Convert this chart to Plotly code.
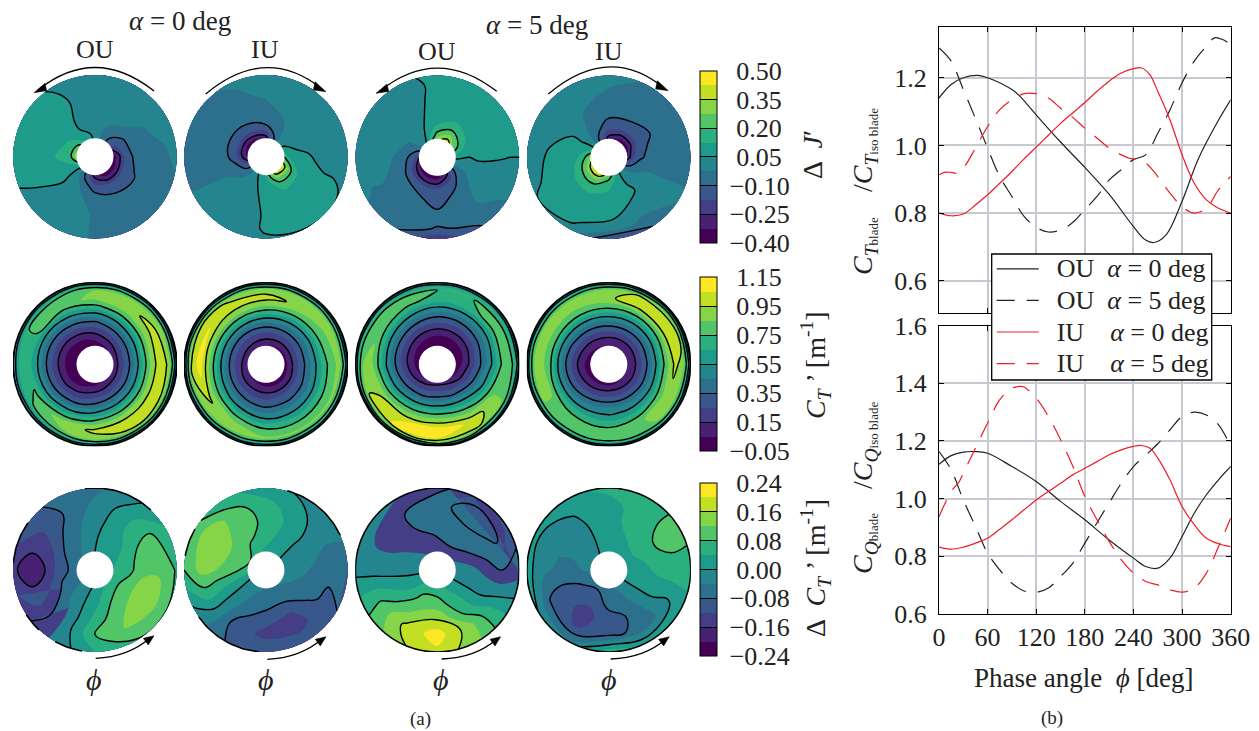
import numpy as np
import plotly.graph_objects as go

W, H = 1259, 731
FONT = "Liberation Serif"
VIRIDIS = ["#440154", "#482173", "#433e85", "#38588c", "#2d708e", "#25858e",
           "#1e9b8a", "#2ab07f", "#52c569", "#86d549", "#c2df23", "#fde725"]

THETA = [0, 30, 60, 90, 120, 150, 180, 210, 240, 270, 300, 330]
R_J = [0.22, 0.29, 0.39, 0.51, 0.73, 0.88, 1.0]
R_CT = [0.22, 0.317, 0.415, 0.512, 0.61, 0.707, 0.805, 0.902, 0.963, 1.0]
R_DCT = [0.22, 0.43, 0.61, 0.79, 1.0]

J_OU0 = [
 [-.38, -.2, -.08, .03, .12, .25, .35, .1, -.1, -.3, -.4, -.4],
 [-.28, -.15, -.08, .03, .08, .17, .2, .08, -.08, -.22, -.3, -.3],
 [-.13, -.11, -.05, .03, .05, .12, .15, .07, -.02, -.13, -.15, -.15],
 [-.08, -.05, 0, .02, .05, .09, .12, .07, 0, -.06, -.1, -.11],
 [-.04, -.02, 0, 0, .06, .08, .09, .05, 0, -.03, -.06, -.06],
 [-.03, -.01, 0, .01, .05, .08, .08, .045, 0, -.03, -.07, -.05],
 [-.01, 0, 0, .02, .04, .08, .08, .04, 0, -.03, -.09, -.05],
]
J_IU0 = [
 [.2, .06, -.06, -.3, -.38, -.4, -.35, -.12, .03, .12, .4, .45],
 [.1, .04, -.04, -.2, -.25, -.28, -.25, -.1, .03, .09, .28, .3],
 [.07, .02, -.03, -.1, -.13, -.14, -.13, -.05, .02, .08, .15, .15],
 [.06, 0, -.02, -.05, -.08, -.09, -.08, -.02, .01, .07, .11, .09],
 [.02, 0, -.01, -.02, -.04, -.07, -.06, -.02, 0, .06, .08, .08],
 [.02, 0, 0, -.01, -.03, -.05, -.055, -.02, 0, .06, .07, .07],
 [.02, 0, 0, 0, -.02, -.04, -.05, -.02, 0, .04, .05, .05],
]
J_OU5 = [
 [.07, .27, .4, .32, .08, -.04, -.25, -.37, -.4, -.38, -.28, -.05],
 [.06, .2, .3, .22, .05, -.03, -.15, -.25, -.3, -.3, -.2, -.04],
 [.05, .13, .18, .13, .03, -.02, -.08, -.13, -.16, -.17, -.12, -.03],
 [.06, .09, .11, .08, .03, 0, -.03, -.06, -.09, -.14, -.07, 0],
 [.055, .07, .08, .07, .02, .01, 0, -.03, -.05, -.07, -.04, 0],
 [.05, .07, .08, .06, .03, .01, 0, -.03, -.06, -.11, -.08, -.01],
 [.05, .07, .08, .06, .04, .01, 0, -.02, -.09, -.24, -.11, -.02],
]
J_IU5 = [
 [-.33, -.4, -.38, -.3, -.1, .07, .3, .42, .45, .28, .07, -.07],
 [-.2, -.27, -.27, -.22, -.08, .06, .2, .3, .3, .18, .06, -.05],
 [-.11, -.15, -.15, -.13, -.06, .05, .12, .17, .18, .13, .06, -.02],
 [-.08, -.11, -.10, -.09, -.04, .05, .09, .11, .12, .1, .07, 0],
 [-.06, -.08, -.06, -.04, -.01, .03, .06, .07, .08, .07, 0, -.01],
 [-.06, -.07, -.05, -.02, 0, .01, .03, .06, .06, 0, -.04, -.01],
 [-.06, -.07, -.03, -.01, 0, .01, .03, .05, .03, -.17, -.11, -.01],
]

CT_OU0 = [
 [.075, .06, .015, -.015, -.03, -.042, -.045, -.038, -.02, 0, .045, .068],
 [.2, .183, .135, .075, .03, -.002, -.005, .008, .06, .12, .167, .19],
 [.333, .317, .267, .2, .15, .112, .105, .127, .183, .25, .3, .325],
 [.515, .491, .42, .333, .283, .241, .233, .258, .317, .397, .468, .503],
 [.723, .697, .617, .515, .444, .385, .374, .408, .491, .59, .67, .71],
 [.908, .885, .818, .723, .643, .577, .563, .603, .697, .795, .863, .896],
 [1.02, .99, .92, .87, .82, .76, .69, .77, .9, .97, 1.02, 1.03],
 [.92, .9, .87, .85, .8, .76, .7, .74, .82, .92, .95, .94],
 [.68, .66, .66, .66, .64, .62, .58, .58, .62, .66, .68, .68],
 [.32, .32, .32, .32, .32, .32, .32, .32, .32, .32, .32, .32],
]
CT_IU0 = [
 [-.01, 0, .02, .04, .06, .07, .08, .06, .02, -.02, -.03, -.02],
 [.14, .15, .15, .16, .17, .18, .17, .15, .13, .11, .1, .11],
 [.283, .283, .282, .283, .29, .293, .292, .273, .25, .233, .246, .263],
 [.397, .414, .426, .444, .462, .474, .468, .426, .374, .333, .342, .362],
 [.55, .574, .606, .643, .673, .694, .683, .62, .538, .468, .474, .497],
 [.697, .75, .795, .84, .874, .897, .885, .818, .723, .617, .617, .643],
 [.82, .85, .93, .98, 1.0, 1.06, 1.1, .97, .87, .78, .76, .78],
 [.88, .88, .9, .92, .93, 1.0, .98, .9, .86, .87, .87, .87],
 [.68, .66, .66, .66, .66, .68, .68, .66, .66, .66, .66, .68],
 [.32, .32, .32, .32, .32, .32, .32, .32, .32, .32, .32, .32],
]
CT_OU5 = [
 [-.018, -.03, -.038, -.038, -.03, -.02, -.01, .022, .075, .105, .083, .015],
 [.068, .03, .008, .008, .03, .06, .09, .143, .2, .233, .208, .135],
 [.19, .15, .127, .127, .15, .183, .217, .275, .333, .374, .342, .267],
 [.325, .283, .258, .258, .283, .317, .35, .432, .515, .563, .526, .42],
 [.462, .414, .39, .39, .432, .48, .526, .624, .716, .761, .704, .577],
 [.617, .577, .563, .563, .617, .67, .723, .818, .896, .93, .863, .75],
 [.79, .77, .74, .73, .77, .83, .88, .96, 1.05, 1.12, 1.03, .86],
 [.78, .76, .75, .75, .78, .8, .85, .98, 1.08, 1.05, .98, .85],
 [.65, .63, .62, .62, .62, .65, .68, .72, .75, .8, .7, .66],
 [.32, .32, .32, .32, .32, .32, .32, .32, .32, .32, .32, .32],
]
CT_IU5 = [
 [.06, .06, .06, .05, .03, .01, -.01, -.02, -.02, -.01, .02, .05],
 [.135, .135, .135, .135, .12, .098, .068, .09, .12, .143, .143, .135],
 [.267, .267, .267, .267, .25, .225, .19, .217, .25, .275, .275, .267],
 [.42, .42, .42, .42, .397, .362, .325, .35, .397, .432, .432, .42],
 [.617, .617, .61, .603, .577, .55, .52, .526, .538, .544, .57, .597],
 [.818, .818, .806, .795, .773, .761, .75, .723, .697, .67, .723, .784],
 [.97, 1.04, 1.03, .93, .88, .88, .87, .85, .8, .79, .84, .92],
 [.92, 1.0, .98, .9, .86, .86, .88, .85, .82, .83, .84, .87],
 [.68, .7, .68, .66, .66, .66, .66, .66, .66, .66, .66, .68],
 [.32, .32, .32, .32, .32, .32, .32, .32, .32, .32, .32, .32],
]

DCT_OU0 = [
 [.04, .03, .01, 0, -.03, -.05, -.06, -.05, -.02, .01, .04, .05],
 [.07, .05, .02, -.005, -.05, -.08, -.1, -.07, -.02, .03, .085, .105],
 [.115, .08, .03, -.02, -.06, -.12, -.16, -.11, -.03, .055, .115, .135],
 [.115, .09, .02, -.03, -.08, -.13, -.19, -.13, -.03, .08, .125, .14],
 [.075, .045, -.01, -.05, -.07, -.1, -.15, -.1, -.03, .04, .075, .08],
]
DCT_IU0 = [
 [-.01, -.005, .01, .03, .05, .08, .06, 0, -.025, -.04, -.045, -.03],
 [-.03, -.015, .02, .06, .09, .11, .1, .01, -.045, -.065, -.075, -.055],
 [-.05, -.02, .025, .07, .1, .14, .12, .02, -.07, -.11, -.125, -.065],
 [-.07, -.03, .015, .055, .1, .155, .135, .03, -.1, -.13, -.135, -.09],
 [-.06, -.03, -.01, .02, .05, .09, .08, -.01, -.08, -.09, -.09, -.08],
]
DCT_OU5 = [
 [-.02, -.04, -.05, -.05, -.04, -.03, -.01, .015, .06, .06, .03, 0],
 [-.03, -.08, -.11, -.085, -.06, -.04, -.015, .03, .095, .1, .06, 0],
 [-.055, -.12, -.15, -.11, -.08, -.05, -.02, .06, .125, .165, .08, 0],
 [-.08, -.18, -.2, -.13, -.08, -.05, -.02, .085, .17, .22, .135, .02],
 [-.06, -.1, -.13, -.06, -.04, -.025, -.015, .07, .15, .19, .13, .03],
]
DCT_IU5 = [
 [.015, .025, .02, .01, 0, -.02, -.03, -.06, -.07, -.05, -.03, .005],
 [.03, .05, .04, .02, -.005, -.03, -.05, -.09, -.11, -.07, -.045, .005],
 [.05, .078, .05, .03, -.005, -.03, -.05, -.1, -.135, -.1, -.07, .005],
 [.065, .095, .06, .025, .003, -.02, -.03, -.09, -.125, -.085, -.075, -.01],
 [.06, .095, .06, .05, .03, .01, .015, 0, -.03, .06, .03, .02],
]

# Degree spans of the rim where the contour lines of the two left discs of row 3 pile up into black
EDGE_OU0 = [(47, 97), (145, 175), (213, 227), (241, 261)]
EDGE_IU0 = [(25, 76), (150, 170), (215, 265)]

PHASE_T_OU0 = [0, 15, 30, 48, 60, 90, 100, 120, 150, 180, 210, 240, 255, 265, 280, 300, 320, 345, 360]
CT_BLADE_OU0 = [1.14, 1.18, 1.2, 1.207, 1.2, 1.165, 1.145, 1.09, 1.01, .935, .855, .76, .72, .713, .735, .835, .96, 1.075, 1.135]
PHASE_T_OU5 = [0, 15, 30, 45, 60, 75, 90, 105, 120, 135, 150, 165, 180, 195, 210, 225, 240, 255, 270, 285, 300, 315, 330, 340, 350, 360]
CT_BLADE_OU5 = [1.288, 1.249, 1.165, 1.08, .992, .908, .849, .79, .758, .744, .75, .772, .81, .849, .898, .928, .958, .972, 1.036, 1.105, 1.185, 1.249, 1.293, 1.318, 1.313, 1.298]
PHASE_T_IU0 = [0, 15, 30, 45, 60, 75, 90, 105, 120, 135, 150, 165, 180, 195, 210, 225, 240, 250, 260, 270, 285, 300, 315, 330, 345, 360]
CT_BLADE_IU0 = [.8, .792, .797, .824, .854, .888, .923, .96, .995, 1.03, 1.065, 1.096, 1.127, 1.16, 1.19, 1.214, 1.227, 1.229, 1.21, 1.16, 1.076, .972, .888, .839, .814, .8]
PHASE_T_IU5 = [0, 8, 15, 22, 30, 45, 60, 75, 90, 105, 120, 135, 150, 165, 180, 195, 210, 225, 235, 240, 255, 270, 285, 300, 315, 330, 345, 360]
CT_BLADE_IU5 = [.913, .921, .92, .918, .933, .992, 1.056, 1.106, 1.135, 1.153, 1.153, 1.14, 1.11, 1.083, 1.051, 1.022, .992, .972, .962, .96, .948, .908, .859, .819, .8, .814, .869, .908]

PHASE_Q_OU0 = [0, 15, 30, 45, 60, 90, 120, 150, 180, 210, 240, 255, 270, 285, 300, 315, 330, 345, 360]
CQ_BLADE_OU0 = [1.119, 1.149, 1.161, 1.163, 1.157, 1.111, 1.059, .99, .926, .856, .793, .764, .758, .793, .868, .949, 1.013, 1.065, 1.111]
PHASE_Q_OU5 = [0, 15, 30, 45, 60, 75, 90, 105, 120, 135, 150, 165, 180, 195, 210, 225, 240, 255, 270, 285, 300, 315, 330, 345, 360]
CQ_BLADE_OU5 = [1.163, 1.1, .995, .903, .81, .752, .706, .679, .674, .689, .729, .775, .845, .916, .985, 1.053, 1.111, 1.15, 1.19, 1.238, 1.285, 1.3, 1.29, 1.256, 1.18]
PHASE_Q_IU0 = [0, 15, 30, 45, 60, 75, 90, 105, 120, 135, 150, 165, 180, 195, 210, 225, 240, 250, 260, 270, 285, 300, 315, 330, 345, 360]
CQ_BLADE_IU0 = [.831, .824, .831, .845, .862, .893, .926, .961, .995, 1.024, 1.053, 1.082, 1.105, 1.128, 1.152, 1.169, 1.181, 1.184, 1.175, 1.14, 1.065, .972, .909, .862, .843, .833]
PHASE_Q_IU5 = [0, 15, 25, 30, 45, 60, 75, 90, 100, 105, 120, 135, 150, 165, 180, 195, 210, 225, 240, 255, 270, 285, 300, 315, 330, 345, 360]
CQ_BLADE_IU5 = [.937, 1.024, 1.059, 1.088, 1.175, 1.262, 1.343, 1.383, 1.389, 1.387, 1.348, 1.285, 1.205, 1.113, 1.007, .926, .851, .787, .741, .712, .7, .683, .675, .689, .741, .833, .932]

def fx(x): return x / W
def fy(y): return 1 - y / H

fig = go.Figure()
layout = dict(width=W, height=H, margin=dict(l=0, r=0, t=0, b=0, autoexpand=False), autosize=False,
              paper_bgcolor="white", plot_bgcolor="white",
              font=dict(family=FONT, size=26, color="#222222"), showlegend=True)
shapes, annotations = [], []

RD = 82
STEP_SCALE = []
for i, c in enumerate(VIRIDIS[:-1]):
    STEP_SCALE += [[i / 11, c], [(i + 1) / 11, c]]
STEP_SCALE.append([1, VIRIDIS[-1]])

ROWS = [
    dict(cy=[156.7, 156.7, 157.3, 157.3], data=[J_OU0, J_IU0, J_OU5, J_IU5], radii=R_J,
         lo=-0.40, hi=0.50, step=0.075, lines=[-.25, -.10, .05, .20, .35], outline=[False] * 4, edges=[None] * 4,
         ticks=[.50, .35, .20, .05, -.10, -.25, -.40], fmt="%.2f", bar=(70.7, 243)),
    dict(cy=[364.3] * 4, data=[CT_OU0, CT_IU0, CT_OU5, CT_IU5], radii=R_CT,
         lo=-0.05, hi=1.15, step=0.10, lines=[.15, .35, .55, .75, .95], outline=[True] * 4, edges=[None] * 4,
         ticks=[1.15, .95, .75, .55, .35, .15, -.05], fmt="%.2f", bar=(277, 451)),
    dict(cy=[570] * 4, data=[DCT_OU0, DCT_IU0, DCT_OU5, DCT_IU5], radii=R_DCT,
         lo=-0.24, hi=0.24, step=0.04, lines=[-.16, -.08, 0, .08, .16], outline=[False, False, True, True],
         edges=[EDGE_OU0, EDGE_IU0, None, None],
         ticks=[.24, .16, .08, 0, -.08, -.16, -.24], fmt="%.2f", bar=(483, 656)),
]
CX = [95, 266, 437.3, 608.8]

n = 0
for row in ROWS:
    for j, zz in enumerate(row["data"]):
        n += 1
        xn, yn = f"x{n}", f"y{n}"
        cx, cy = CX[j], row["cy"][j]
        layout[f"xaxis{n}"] = dict(domain=[fx(cx - RD), fx(cx + RD)], range=[-1, 1], visible=False, anchor=yn)
        layout[f"yaxis{n}"] = dict(domain=[fy(cy + RD), fy(cy - RD)], range=[-1, 1], visible=False, anchor=xn)
        rr = np.array(row["radii"])
        th = np.array(THETA + [360.0])
        A, B = np.meshgrid(rr, th)
        X = A * np.cos(np.radians(B))
        Y = A * np.sin(np.radians(B))
        Z = np.array(zz).T
        Z = np.vstack([Z, Z[0]])
        ax = dict(showgrid=False, showticklabels="none", showline=False, startline=False, endline=False,
                  minorgridcount=0, smoothing=1)
        cid = f"c{n}"
        fig.add_trace(go.Carpet(a=rr.tolist(), b=th.tolist(), x=X.tolist(), y=Y.tolist(), carpet=cid,
                                xaxis=xn, yaxis=yn, aaxis=ax, baxis=ax))
        show = j == 0
        cb = None
        if show:
            top, bot = row["bar"]
            labels = [("\u00a0\u00a0" + row["fmt"] % v) if v >= 0 else "\u00a0\u2212" + row["fmt"] % abs(v) for v in row["ticks"]]
            cb = dict(x=fx(699.5), xanchor="left", y=fy((top + bot) / 2), yanchor="middle",
                      len=(bot - top) / H, lenmode="fraction", thickness=17, thicknessmode="pixels",
                      xpad=0, ypad=0, outlinecolor="black", outlinewidth=1,
                      tickmode="array", tickvals=row["ticks"], ticktext=labels,
                      ticks="inside", ticklen=17, tickcolor="black", tickwidth=1.2,
                      tickfont=dict(family=FONT, size=26, color="#222222"))
        fig.add_trace(go.Contourcarpet(a=rr.tolist(), b=th.tolist(), z=Z.tolist(), carpet=cid, xaxis=xn, yaxis=yn,
                                       autocontour=False, zmin=row["lo"], zmax=row["hi"],
                                       contours=dict(start=row["lo"], end=row["hi"] - row["step"] * 0.5, size=row["step"],
                                                     coloring="fill", showlines=False),
                                       line=dict(width=0, smoothing=1),
                                       colorscale=STEP_SCALE, showscale=show, colorbar=cb,
                                       showlegend=False))
        for lev in row["lines"]:
            fig.add_trace(go.Contourcarpet(a=rr.tolist(), b=th.tolist(), z=Z.tolist(), carpet=cid, xaxis=xn, yaxis=yn,
                                           autocontour=False,
                                           contours=dict(start=lev, end=lev, size=1, coloring="none", showlines=True),
                                           line=dict(color="black", width=1.4, smoothing=1.2),
                                           showscale=False, showlegend=False))
        if row["edges"][j]:
            for a0, a1 in row["edges"][j]:
                t = np.radians(np.arange(a0, a1 + 1, 2))
                fig.add_trace(go.Scatter(x=np.cos(t).tolist(), y=np.sin(t).tolist(), xaxis=xn, yaxis=yn, mode="lines",
                                         line=dict(color="black", width=1.6), showlegend=False, hoverinfo="skip"))
        hub = 18.5 / RD
        shapes.append(dict(type="circle", xref=xn, yref=yn, x0=-hub, x1=hub, y0=-hub, y1=hub,
                           fillcolor="white", line=dict(width=0), layer="above"))
        if row["outline"][j]:
            shapes.append(dict(type="circle", xref=xn, yref=yn, x0=-1, x1=1, y0=-1, y1=1,
                               line=dict(color="black", width=1.6), layer="above"))

def paper_path(pts, curve=True):
    p = pts
    if curve:
        return f"M {fx(p[0][0])},{fy(p[0][1])} Q {fx(p[1][0])},{fy(p[1][1])} {fx(p[2][0])},{fy(p[2][1])}"
    return "M " + " L ".join(f"{fx(a)},{fy(b)}" for a, b in p) + " Z"

ARCS = [
    ((154, 91), (95, 44.5), (38, 90), [(34, 92.7), (45, 83.3), (46.7, 90.7)]),
    ((205.7, 94), (266, 44), (322, 89), [(326, 91.7), (315, 81.7), (313.3, 90)]),
    ((496.7, 91.3), (437, 45), (380, 91), [(376, 93.3), (387, 84), (388.7, 91.4)]),
    ((548.3, 94), (609, 43), (664, 88), [(668.3, 90.7), (657.3, 80.7), (655.6, 89)]),
    ((95.7, 658.3), (128, 657), (150, 638), [(154, 635.7), (143.3, 638.3), (148.3, 645)]),
    ((267.3, 659.3), (300, 658), (322, 639), [(326, 636.7), (315.3, 639.3), (320.3, 646)]),
    ((441.7, 659), (475, 658), (497, 639), [(500.7, 636.7), (490, 639.3), (495, 646)]),
    ((610.7, 659), (644, 658), (666, 639), [(669.3, 636.7), (658.6, 639.3), (663.6, 646)]),
]
for p0, c, p1, tri in ARCS:
    shapes.append(dict(type="path", xref="paper", yref="paper", path=paper_path([p0, c, p1]),
                       line=dict(color="black", width=1.3)))
    shapes.append(dict(type="path", xref="paper", yref="paper", path=paper_path(tri, curve=False),
                       fillcolor="black", line=dict(color="black", width=0.5)))

def note(text, x, y, size=26, angle=0, color="#222222"):
    annotations.append(dict(text=text, x=fx(x), y=fy(y), xref="paper", yref="paper", showarrow=False,
                            xanchor="center", yanchor="middle", textangle=angle,
                            font=dict(family=FONT, size=size, color=color)))

note("<i>α</i> = 0 deg", 180, 21, 27)
note("<i>α</i> = 5 deg", 537, 25, 27)
for x, y, t in [(95, 50, "OU"), (265, 50, "IU"), (437, 52, "OU"), (609, 52, "IU")]:
    note(t, x, y, 26)
for x in [94, 266, 441, 609]:
    note("<i>ϕ</i>", x, 679, 30)
note("(a)", 421, 719, 19)
note("(b)", 1052, 718, 19)
note("Phase angle  <i>ϕ</i> [deg]", 1083, 678, 27)
note("Δ  <i>J</i>′", 812, 155, 28, -90)
note("<i>C<sub>T</sub></i> ’ [m<sup>-1</sup>]", 815, 365, 28, -90)
note("Δ  <i>C<sub>T</sub></i> ’ [m<sup>-1</sup>]", 815, 568, 28, -90)
note('<i>C<sub>T</sub></i><sub><span style="font-size:13px">blade</span></sub>', 864, 246, 28, -90)
note('/<i>C<sub>T</sub></i><sub><span style="font-size:13px">iso blade</span></sub>', 864, 150, 28, -90)
note('<i>C<sub>Q</sub></i><sub><span style="font-size:13px">blade</span></sub>', 864, 544, 28, -90)
note('/<i>C<sub>Q</sub></i><sub><span style="font-size:13px">iso blade</span></sub>', 864, 446, 28, -90)

GRID = "#c8c8d0"
xticks = [0, 60, 120, 180, 240, 300, 360]
common_x = dict(range=[0, 360], tickvals=xticks, ticks="inside", ticklen=5, tickcolor="black", showline=True,
                linecolor="black", linewidth=1.3, mirror="ticks", showgrid=True, gridcolor=GRID, gridwidth=1.5,
                zeroline=False, tickfont=dict(size=26))
common_y = dict(ticks="inside", ticklen=5, tickcolor="black", showline=True, linecolor="black", linewidth=1.3,
                mirror="ticks", showgrid=True, gridcolor=GRID, gridwidth=1.5, zeroline=False, ticklabelstandoff=6,
                tickfont=dict(size=26))
layout["xaxis13"] = dict(domain=[fx(939), fx(1230.7)], anchor="y13", showticklabels=False, **common_x)
layout["yaxis13"] = dict(domain=[fy(313), fy(26.7)], anchor="x13", range=[0.5045, 1.351],
                         tickvals=[.6, .8, 1.0, 1.2], tickformat=".1f", **common_y)
layout["xaxis14"] = dict(domain=[fx(939), fx(1230.7)], anchor="y14", **common_x)
layout["yaxis14"] = dict(domain=[fy(613.7), fy(325.7)], anchor="x14", range=[0.6, 1.6],
                         tickvals=[.6, .8, 1.0, 1.2, 1.4, 1.6], tickformat=".1f", **common_y)

DASH = "18px,12px"
def legend_name(txt):
    return f'<span style="font-size:26px">{txt}</span>'
SERIES = [
    (PHASE_T_OU0, CT_BLADE_OU0, PHASE_Q_OU0, CQ_BLADE_OU0, "#222222", "solid", "\u00a0\u00a0OU\u00a0\u00a0<i>α</i> = 0 deg"),
    (PHASE_T_OU5, CT_BLADE_OU5, PHASE_Q_OU5, CQ_BLADE_OU5, "#222222", DASH, "\u00a0\u00a0OU\u00a0\u00a0<i>α</i> = 5 deg"),
    (PHASE_T_IU0, CT_BLADE_IU0, PHASE_Q_IU0, CQ_BLADE_IU0, "#ee1c25", "solid", "\u00a0\u00a0IU\u00a0\u00a0\u00a0\u00a0<i>α</i> = 0 deg"),
    (PHASE_T_IU5, CT_BLADE_IU5, PHASE_Q_IU5, CQ_BLADE_IU5, "#ee1c25", DASH, "\u00a0\u00a0IU\u00a0\u00a0\u00a0\u00a0<i>α</i> = 5 deg"),
]
for xt, yt, xq, yq, col, dash, name in SERIES:
    fig.add_trace(go.Scatter(x=xt, y=yt, xaxis="x13", yaxis="y13", mode="lines", name=legend_name(name),
                             line=dict(color=col, width=1.2, dash=dash, shape="spline", smoothing=1)))
    fig.add_trace(go.Scatter(x=xq, y=yq, xaxis="x14", yaxis="y14", mode="lines", showlegend=False,
                             line=dict(color=col, width=1.2, dash=dash, shape="spline", smoothing=1)))

shapes.append(dict(type="rect", xref="paper", yref="paper", x0=fx(991.7), x1=fx(1211.7), y0=fy(380), y1=fy(254),
                   fillcolor="white", line=dict(color="black", width=1.3), layer="above"))
layout["legend"] = dict(x=fx(991.7), xanchor="left", y=fy(248), yanchor="top", bgcolor="rgba(0,0,0,0)",
                        borderwidth=0, font=dict(family=FONT, size=22, color="#222222"), itemwidth=42,
                        tracegroupgap=0)
layout["shapes"] = shapes
layout["annotations"] = annotations
fig.update_layout(**layout)
fig.write_html("out.html", config={"displayModeBar": False},
               post_script="document.body.style.margin='0';document.body.style.overflow='hidden';")
